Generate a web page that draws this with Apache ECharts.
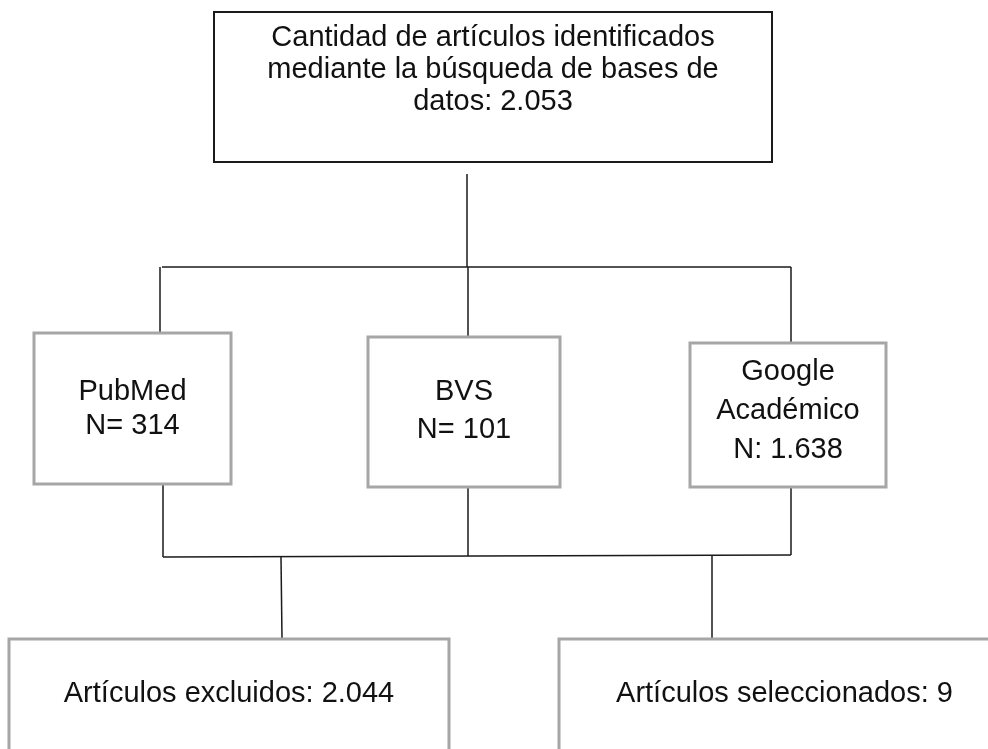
<!DOCTYPE html>
<html>
<head>
<meta charset="utf-8">
<script src="https://cdn.jsdelivr.net/npm/echarts@6/dist/echarts.min.js"></script>
<style>
  html, body { margin: 0; padding: 0; background: #fff; }
  #chart { width: 988px; height: 749px; }
</style>
</head>
<body>
<div id="chart"></div>
<script>
// content of the flow chart
const topLines = ["Cantidad de artículos identificados", "mediante la búsqueda de bases de", "datos: 2.053"];
const sourceNames = ["PubMed", "BVS", "Google\nAcadémico"];
const sourceCounts = ["N= 314", "N= 101", "N: 1.638"];
const outcomeLabels = ["Artículos excluidos: 2.044", "Artículos seleccionados: 9"];

// layout (page units, y grows downwards): box corners, text centre line, line height
const topBox = [214, 12, 772, 162, 70, 32];
const sourceBoxes = [
    [34, 333, 231, 484, 409, 34],
    [368, 337, 560, 487, 411, 38],
    [690, 343, 886, 487, 411, 39]
];
const outcomeBoxes = [
    [9, 639, 449, 770, 694, 36],
    [559, 639, 1010, 770, 694, 36]
];
const connectors = [
    [467, 174, 467, 267],
    [162, 267, 791, 267],
    [160, 267, 160, 333],
    [468, 267, 468, 337],
    [791, 267, 791, 343],
    [163, 484, 163, 557],
    [468, 487, 468, 556],
    [791, 487, 791, 555],
    [163, 557, 791, 555],
    [281, 557, 282, 639],
    [712, 556, 712, 639]
];

const FONT = "Liberation Sans, Arial, sans-serif";

const boxData = [];
boxData.push({ value: topBox, label: topLines.join("\n"), kind: "top" });
sourceBoxes.forEach((b, i) => {
    boxData.push({ value: b, label: sourceNames[i] + "\n" + sourceCounts[i], kind: "src" });
});
outcomeBoxes.forEach((b, i) => {
    boxData.push({ value: b, label: outcomeLabels[i], kind: "out" });
});

const chart = echarts.init(document.getElementById("chart"), null, { renderer: "canvas" });

chart.setOption({
    animation: false,
    backgroundColor: "#ffffff",
    grid: { left: 0, right: 0, top: 0, bottom: 0 },
    xAxis: { type: "value", min: 0, max: 988, show: false },
    yAxis: { type: "value", min: 0, max: 749, inverse: true, show: false },
    series: [
        {
            type: "custom",
            clip: true,
            data: connectors,
            renderItem: (params, api) => {
                const a = api.coord([api.value(0), api.value(1)]);
                const b = api.coord([api.value(2), api.value(3)]);
                return {
                    type: "line",
                    shape: { x1: a[0], y1: a[1], x2: b[0], y2: b[1] },
                    style: { stroke: "#1a1a1a", lineWidth: 1.5 }
                };
            }
        },
        {
            type: "custom",
            clip: true,
            data: boxData,
            renderItem: (params, api) => {
                const item = boxData[params.dataIndex];
                const p0 = api.coord([api.value(0), api.value(1)]);
                const p1 = api.coord([api.value(2), api.value(3)]);
                const isTop = item.kind === "top";
                const cx = (p0[0] + p1[0]) / 2;
                const cy = api.coord([0, api.value(4)])[1];
                return {
                    type: "group",
                    children: [
                        {
                            type: "rect",
                            shape: { x: p0[0], y: p0[1], width: p1[0] - p0[0], height: p1[1] - p0[1] },
                            style: {
                                fill: "#ffffff",
                                stroke: isTop ? "#1a1a1a" : "#a6a6a6",
                                lineWidth: isTop ? 2 : 3
                            }
                        },
                        {
                            type: "text",
                            style: {
                                text: item.label,
                                x: cx,
                                y: cy,
                                align: "center",
                                verticalAlign: "middle",
                                fontFamily: FONT,
                                fontSize: 29,
                                lineHeight: api.value(5),
                                fill: "#111111"
                            }
                        }
                    ]
                };
            }
        }
    ]
});
</script>
</body>
</html>
